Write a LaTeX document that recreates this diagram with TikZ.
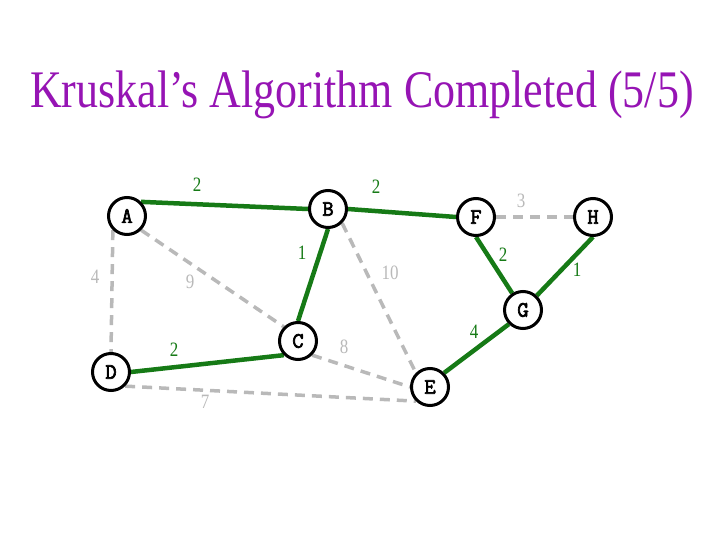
\documentclass[tikz,border=0pt]{standalone}
\usepackage{fontspec}
\usepackage{graphicx}
\setmainfont{Liberation Serif}
\newfontfamily\vertexfont[FakeBold=3]{Latin Modern Mono}
\usepackage{tikz}
\usetikzlibrary{backgrounds}

\definecolor{mstgreen}{RGB}{22,122,22}
\definecolor{unusedgray}{RGB}{185,185,185}
\definecolor{titlepurple}{RGB}{150,20,180}

% slide text is a little taller than wide
\newcommand{\tall}[1]{\scalebox{1}[1.2]{#1}}

\begin{document}
\begin{tikzpicture}[
    x=1pt, y=-1pt,
    vertex/.style={
        circle, draw, line width=3pt, fill=white,
        minimum size=37pt, inner sep=0pt,
        font=\vertexfont\bfseries\fontsize{22}{22}\selectfont
    },
    tree/.style={draw=mstgreen, line width=4.5pt},
    unused/.style={draw=unusedgray, line width=3.5pt, dash pattern=on 10pt off 7pt},
    wtree/.style={text=mstgreen, font=\fontsize{17}{17}\selectfont},
    wunused/.style={text=unusedgray, font=\fontsize{17}{17}\selectfont}
]
\useasboundingbox (0,0) rectangle (720,540);
\node[text=titlepurple, anchor=base, font=\fontsize{44}{44}\selectfont]
  (title) at (362,108) {\tall{Kruskal's Algorithm Completed (5/5)}};
% vertices
\node[vertex] (A) at (127,216) {A};
\node[vertex] (B) at (328,209) {B};
\node[vertex] (F) at (476,217) {F};
\node[vertex] (H) at (593,217) {H};
\node[vertex] (G) at (523,310) {G};
\node[vertex] (C) at (298,341) {C};
\node[vertex] (D) at (111,372) {D};
\node[vertex] (E) at (430,387) {E};
\begin{scope}[on background layer]
% edges not in the tree
\draw[unused] (A.225) -- (D.north);
\draw[unused] (A.south east) -- (C.north west);
\draw[unused] (B.south east) -- (E.north west);
\draw[unused] (F.east) -- (H.west);
\draw[unused] (C.south east) -- (E.west);
\draw[unused] (D.south east) -- (E.south west);
% tree edges
\draw[tree] (A.north east) -- (B.west);
\draw[tree] (B.east) -- (F.west);
\draw[tree] (B.south) -- (C.north);
\draw[tree] (D.east) -- (C.south west);
\draw[tree] (F.south) -- (G);
\draw[tree] (G) -- (H.south);
\draw[tree] (E.north east) -- (G.south west);
\end{scope}
% weights
\node[wtree] (wab) at (197,185) {\tall{2}};
\node[wtree] (wbf) at (376,187) {\tall{2}};
\node[wunused] (wfh) at (521,201) {\tall{3}};
\node[wtree] (wfg) at (503,255) {\tall{2}};
\node[wtree] (wgh) at (577,270) {\tall{1}};
\node[wtree] (wbc) at (302,253) {\tall{1}};
\node[wunused] (wbe) at (390,273) {\tall{10}};
\node[wunused] (wac) at (190,282) {\tall{9}};
\node[wunused] (wad) at (95,277) {\tall{4}};
\node[wtree] (wdc) at (174,350) {\tall{2}};
\node[wunused] (wde) at (205,402) {\tall{7}};
\node[wunused] (wce) at (344,347) {\tall{8}};
\node[wtree] (wge) at (474,332) {\tall{4}};
\end{tikzpicture}
\end{document}
